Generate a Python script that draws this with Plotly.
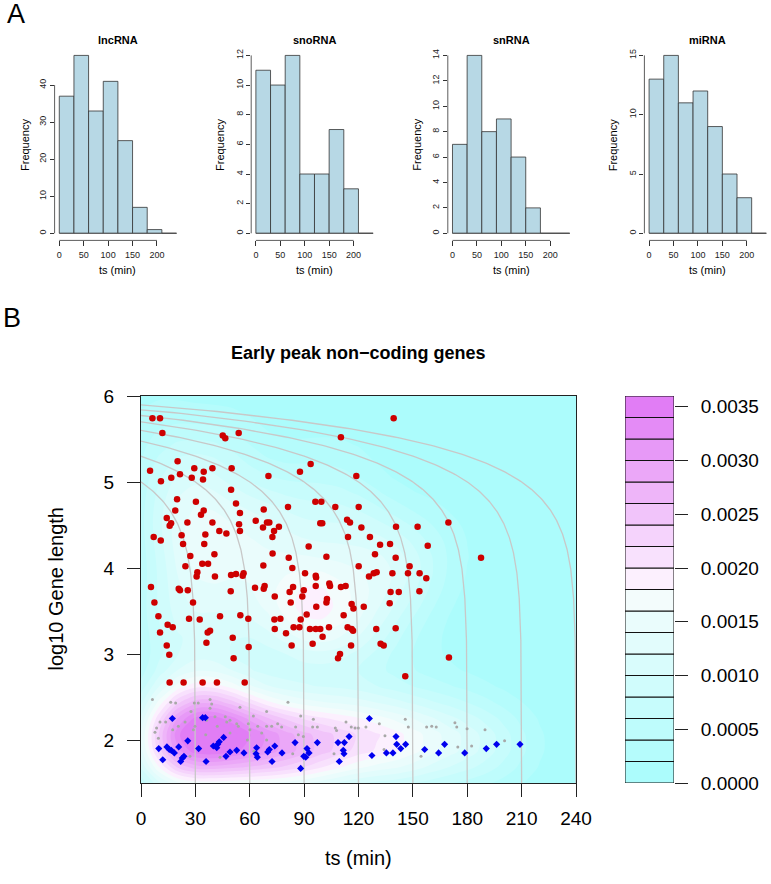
import numpy as np
import plotly.graph_objects as go

# ---------------- data ----------------
bin_edges = [0, 30, 60, 90, 120, 150, 180, 210, 240]
hist_names = ["lncRNA", "snoRNA", "snRNA", "miRNA"]
lncRNA_counts = [37, 48, 33, 41, 25, 7, 1, 0]
snoRNA_counts = [11, 10, 12, 4, 4, 7, 3, 0]
snRNA_counts = [7, 14, 8, 9, 6, 2, 0, 0]
miRNA_counts = [13, 15, 11, 12, 9, 5, 3, 0]
hist_x_ticks = [0, 50, 100, 150, 200]
lncRNA_y_ticks = [0, 10, 20, 30, 40]
snoRNA_y_ticks = [0, 2, 4, 6, 8, 10, 12]
snRNA_y_ticks = [0, 2, 4, 6, 8, 10, 12, 14]
miRNA_y_ticks = [0, 5, 10, 15]

red_ts = [6.3, 10.5, 11.8, 45.1, 46.5, 53.9, 110.3, 20.2, 5.0, 11.0, 16.7, 21.5, 29.4, 28.0, 34.6, 34.2,
          39.4, 50.0, 70.3, 87.7, 93.6, 118.8, 49.7, 19.9, 30.3, 52.4, 18.9, 34.6, 33.1, 54.6, 67.7, 81.1,
          96.2, 99.5, 107.2, 120.1, 14.2, 16.6, 15.8, 25.6, 39.4, 54.1, 54.6, 63.3, 67.3, 69.5, 70.8, 73.4,
          76.1, 98.9, 100.0, 113.7, 115.3, 121.6, 7.0, 10.9, 22.4, 23.2, 35.5, 34.9, 43.2, 47.1, 72.5, 92.5,
          114.2, 126.3, 131.9, 27.2, 40.5, 72.6, 102.3, 129.1, 24.5, 33.8, 37.0, 67.5, 81.5, 83.5, 120.1,
          31.1, 30.7, 40.8, 49.7, 52.4, 56.1, 56.6, 90.5, 96.4, 96.6, 130.0, 125.8, 128.4, 5.5, 20.8, 21.5,
          25.8, 49.5, 62.9, 67.7, 68.2, 73.8, 82.0, 83.9, 89.8, 89.0, 96.4, 103.9, 104.3, 110.3, 112.9, 7.4,
          28.7, 82.6, 102.6, 102.3, 96.7, 116.2, 117.2, 122.9, 9.6, 43.6, 54.8, 91.4, 111.8, 26.5, 32.4,
          59.2, 73.6, 76.9, 88.1,
          139.4, 140.7, 152.6, 137.4, 140.5, 148.2, 147.3, 153.7, 157.4, 138.7, 137.7, 142.2, 153.6, 137.2,
          140.5, 158.2, 169.6, 187.6,
          14.7, 17.5, 10.5, 36.8, 38.1, 36.1, 50.6, 14.2, 15.6, 51.1, 59.4, 73.8, 80.0, 84.2, 87.4, 93.2,
          96.4, 98.9, 103.7, 114.0, 116.2, 117.0, 83.1, 94.7, 100.2, 115.9, 108.7, 109.8, 15.8, 23.5, 34.0,
          41.9, 57.2,
          129.8, 132.2, 133.9, 169.9, 145.8]
red_loglen = [5.74, 5.74, 5.57, 5.54, 5.51, 5.57, 5.52, 5.24, 5.13, 5.01, 5.05, 5.09, 5.16, 5.05, 5.12, 5.03,
              5.16, 5.16, 5.07, 5.12, 5.21, 5.07, 4.91, 4.80, 4.77, 4.75, 4.67, 4.67, 4.62, 4.64, 4.68, 4.71,
              4.77, 4.77, 4.71, 4.71, 4.58, 4.52, 4.49, 4.53, 4.53, 4.51, 4.43, 4.55, 4.47, 4.53, 4.53, 4.43,
              4.48, 4.52, 4.52, 4.56, 4.53, 4.47, 4.36, 4.32, 4.38, 4.28, 4.39, 4.28, 4.43, 4.40, 4.36, 4.25,
              4.36, 4.36, 4.27, 4.14, 4.16, 4.17, 4.13, 4.16, 4.02, 4.05, 4.05, 4.03, 4.12, 4.00, 4.02,
              3.95, 3.90, 3.90, 3.92, 3.93, 3.91, 3.94, 3.94, 3.91, 3.89, 3.95, 3.90, 3.94, 3.78, 3.76, 3.74,
              3.74, 3.73, 3.77, 3.76, 3.79, 3.67, 3.72, 3.78, 3.74, 3.67, 3.79, 3.82, 3.79, 3.78, 3.79, 3.60,
              3.60, 3.60, 3.64, 3.60, 3.55, 3.58, 3.53, 3.55, 3.44, 3.44, 3.45, 3.46, 3.45, 3.41, 3.40,
              3.41, 3.40, 3.41, 3.40,
              5.74, 4.48, 4.48, 4.28, 4.12, 4.02, 3.94, 3.94, 3.88, 3.94, 3.72, 3.72, 3.73, 3.59,
              3.30, 4.26, 4.53, 4.12,
              3.34, 3.31, 3.25, 3.25, 3.27, 3.13, 3.19, 3.10, 2.99, 2.95, 3.08, 3.29, 3.24, 3.31, 3.31, 3.29,
              3.29, 3.29, 3.31, 3.31, 3.29, 3.27, 3.10, 3.12, 3.20, 3.10, 2.95, 3.00, 2.67, 2.67, 2.67,
              2.67, 2.67,
              3.29, 3.12, 3.10, 2.96, 2.74]

blue_ts = [17.3, 34.0, 35.5, 9.8, 12.0, 14.3, 15.6, 16.7, 18.4, 20.8, 21.9, 22.8, 23.7, 25.8, 31.8, 35.9,
           39.9, 41.8, 42.3, 43.2, 45.6, 46.9, 49.1, 52.8, 56.8, 63.8, 63.5, 64.2, 69.9, 70.8, 73.8, 72.3,
           77.8, 85.0, 88.1, 89.8, 90.9, 91.6, 92.7, 97.3, 108.7, 112.2, 114.8, 111.6, 112.0, 109.4,
           126.0, 140.7, 141.1, 143.3, 146.0, 127.4, 135.4, 139.0, 156.5, 164.2, 167.5, 178.6, 190.5, 196.2,
           209.1]
blue_loglen = [2.25, 2.26, 2.26, 1.90, 1.77, 1.92, 1.89, 1.88, 1.85, 1.92, 1.75, 1.79, 1.81, 1.99, 1.90, 1.75,
               1.93, 1.91, 1.95, 1.98, 2.03, 1.81, 1.86, 1.88, 1.85, 1.91, 1.84, 1.80, 1.86, 1.89, 1.93, 1.75,
               1.85, 1.97, 1.67, 1.81, 1.80, 1.90, 1.85, 1.97, 1.97, 1.97, 2.04, 1.88, 1.84, 1.75,
               2.25, 2.04, 1.95, 1.90, 1.95, 1.82, 1.85, 1.85, 1.89, 1.85, 1.95, 1.85, 1.90, 1.95,
               1.95]

# small grey dots visible between the diamonds (each diamond also covers a grey dot)
gray_ts = [6.3, 16.4, 19.1, 27.6, 29.4, 31.6, 38.1, 38.1, 39.0, 54.6, 69.3, 81.1, 88.1, 95.1, 10.5, 8.6,
           7.7, 9.6, 13.6, 20.6, 24.3, 28.9, 29.8, 32.9, 36.2, 40.8, 42.1, 46.5, 47.3, 49.1, 52.8, 53.7,
           59.2, 60.1, 62.0, 64.4, 66.6, 69.3, 72.1, 75.4, 77.6, 85.3, 86.8, 89.6, 94.7, 97.3, 107.2, 107.9,
           113.1, 116.0, 118.1, 119.9, 27.0, 43.6, 83.7, 106.5, 49.1, 58.7, 69.3, 62.3, 35.7, 17.5,
           124.1, 131.5, 145.8, 147.5, 134.6, 157.6, 160.4, 162.9, 173.2, 174.2, 179.9, 189.8, 134.1, 154.5,
           174.8, 182.4, 200.6]
gray_loglen = [2.47, 2.44, 2.43, 2.33, 2.43, 2.43, 2.47, 2.37, 2.42, 2.38, 2.33, 2.44, 2.28, 2.24, 2.21, 2.14,
               2.09, 2.02, 2.21, 2.16, 2.21, 2.12, 2.16, 2.25, 2.23, 2.27, 2.16, 2.27, 2.21, 2.23, 2.19, 2.16,
               2.19, 2.12, 2.28, 2.16, 2.08, 2.16, 2.16, 2.19, 2.15, 2.15, 2.06, 2.04, 2.15, 2.15, 2.14, 2.11,
               2.21, 2.15, 2.14, 2.14, 1.81, 1.80, 1.84, 1.84, 2.08, 2.00, 2.00, 1.87, 2.06, 2.12,
               2.15, 2.19, 2.24, 2.15, 2.05, 2.15, 2.16, 2.15, 2.20, 2.15, 2.13, 2.12, 1.89, 1.81,
               1.92, 1.93, 1.99]

main_x_ticks = [0, 30, 60, 90, 120, 150, 180, 210, 240]
main_y_ticks = [2, 3, 4, 5, 6]
curve_offsets = [30, 60, 90, 120, 150, 180, 210, 240]
elongation_bp_per_min = 200000 / 60
level_start, level_end, level_step = 0.0, 0.0036, 0.0002
key_ticks = [0.0, 0.0005, 0.0010, 0.0015, 0.0020, 0.0025, 0.0030, 0.0035]

# ---------------- helpers ----------------
W, H = 771, 884
FONT = "Liberation Sans"


def px(x):
    return x / W


def py(y):
    return 1 - y / H


def sfx(n):
    return "" if n == 1 else str(n)


def band_color(k, nb):
    half = nb // 2
    if k < half:
        s = 0.32 * (1 - k / half)
        v = 0.99
        r, g, b = v * (1 - s), v, v
    else:
        t = (k - half + 1) / half
        s = 0.49 * t
        v = 1 - 0.04 * t
        f = 5 / 6
        r, g, b = v * (1 - s * (1 - f)), v * (1 - s), v
    return "rgb(%d,%d,%d)" % (round(255 * r), round(255 * g), round(255 * b))


fig = go.Figure()
layout = dict(width=W, height=H, margin=dict(l=0, r=0, t=0, b=0, pad=0, autoexpand=False),
              paper_bgcolor="white", plot_bgcolor="white", showlegend=False, barmode="overlay",
              font=dict(family=FONT, color="black"))
annotations = []
shapes = []

# ---------------- panel A: histograms ----------------
hist_counts = [lncRNA_counts, snoRNA_counts, snRNA_counts, miRNA_counts]
hist_yticks = [lncRNA_y_ticks, snoRNA_y_ticks, snRNA_y_ticks, miRNA_y_ticks]
hist_left = [54.6, 251.2, 447.8, 644.4]
hist_w = 126.6
freq_x = [25, 220, 416.7, 613.3]
centers = [(a + b) / 2 for a, b in zip(bin_edges[:-1], bin_edges[1:])]
widths = [b - a for a, b in zip(bin_edges[:-1], bin_edges[1:])]
ydom = [py(240.4), py(48.3)]
for i in range(4):
    s = sfx(i + 1)
    cnt = hist_counts[i]
    m = max(cnt)
    fig.add_trace(go.Bar(x=centers, y=cnt, width=widths, xaxis="x" + s, yaxis="y" + s,
                         marker=dict(color="#B7D8E5", line=dict(color="#333333", width=0.8)),
                         hoverinfo="skip"))
    xr = [bin_edges[0] - 0.04 * (bin_edges[-1] - bin_edges[0]),
          bin_edges[-1] + 0.04 * (bin_edges[-1] - bin_edges[0])]
    dom = [px(hist_left[i]), min(1.0, px(hist_left[i] + hist_w))]
    layout["xaxis" + s] = dict(domain=dom, range=xr, anchor="y" + s, tickvals=hist_x_ticks,
                               ticks="outside", ticklen=5, tickwidth=0.8, tickcolor="#333333",
                               showline=False, showgrid=False, zeroline=False,
                               tickfont=dict(size=9, color="#222222"), ticklabelstandoff=1)
    layout["yaxis" + s] = dict(domain=ydom, range=[-0.04 * m, 1.04 * m], anchor="x" + s,
                               tickvals=hist_yticks[i], ticks="outside", ticklen=4, tickwidth=0.8,
                               tickcolor="#333333", tickangle=-90, showline=False, showgrid=False,
                               zeroline=False, tickfont=dict(size=9, color="#222222"))
    # axis lines spanning the tick range only (R style)
    shapes.append(dict(type="line", xref="x" + s, yref="y%s domain" % s, x0=hist_x_ticks[0],
                       x1=hist_x_ticks[-1], y0=0, y1=0, line=dict(color="#333333", width=0.8)))
    shapes.append(dict(type="line", xref="x%s domain" % s, yref="y" + s, x0=0, x1=0,
                       y0=hist_yticks[i][0], y1=hist_yticks[i][-1], line=dict(color="#333333", width=0.8)))
    shapes.append(dict(type="line", xref="x" + s, yref="y" + s, x0=bin_edges[0], x1=bin_edges[-1],
                       y0=0, y1=0, line=dict(color="#555555", width=0.8)))
    cx = hist_left[i] + hist_w / 2
    annotations.append(dict(text="<b>%s</b>" % hist_names[i], x=px(cx), y=py(40), xref="paper",
                            yref="paper", showarrow=False, font=dict(size=11), xanchor="center",
                            yanchor="middle"))
    annotations.append(dict(text="Frequency", x=px(freq_x[i]), y=py(145), xref="paper", yref="paper",
                            showarrow=False, font=dict(size=11), textangle=-90, xanchor="center",
                            yanchor="middle"))
    annotations.append(dict(text="ts (min)", x=px(cx), y=py(270), xref="paper", yref="paper",
                            showarrow=False, font=dict(size=11), xanchor="center", yanchor="middle"))

annotations.append(dict(text="A", x=px(16), y=py(14), xref="paper", yref="paper", showarrow=False,
                        font=dict(size=27), xanchor="center", yanchor="middle"))
annotations.append(dict(text="B", x=px(12), y=py(318), xref="paper", yref="paper", showarrow=False,
                        font=dict(size=27), xanchor="center", yanchor="middle"))

# ---------------- panel B: density + points ----------------
# density sample: every plotted mark (red, all grey short genes incl. those under diamonds, blue)
pts_x = np.array(red_ts + gray_ts + blue_ts + blue_ts)
pts_y = np.array(red_loglen + gray_loglen + blue_loglen + blue_loglen)


def nrd(v):
    q1, q3 = np.percentile(v, [25, 75])
    return 4 * 1.06 * min(np.std(v, ddof=1), (q3 - q1) / 1.34) * v.size ** (-0.2)


hx, hy = nrd(pts_x) / 4, nrd(pts_y) / 4
gx = np.linspace(main_x_ticks[0], main_x_ticks[-1], 25)
gy = np.linspace(1.5, 6.0, 25)
kx = np.exp(-0.5 * ((gx[:, None] - pts_x[None, :]) / hx) ** 2) / (np.sqrt(2 * np.pi) * hx)
ky = np.exp(-0.5 * ((gy[:, None] - pts_y[None, :]) / hy) ** 2) / (np.sqrt(2 * np.pi) * hy)
dens = ky @ kx.T / pts_x.size

levels = np.arange(level_start, level_end + level_step / 2, level_step)
nb = len(levels) - 1
band_cols = [band_color(k, nb) for k in range(nb)]
nlev = len(levels)
cscale = [[0.0, band_cols[0]]] + [[(k + 1) / nlev, band_cols[k]] for k in range(nb)] + [[1.0, band_cols[-1]]]

fig.add_trace(go.Contour(x=gx, y=gy, z=dens, xaxis="x5", yaxis="y5", autocontour=False,
                         contours=dict(start=level_start, end=level_end, size=level_step,
                                       coloring="fill", showlines=False),
                         line=dict(width=0), colorscale=cscale, showscale=False, hoverinfo="skip"))

ycurve = np.linspace(1.5, 6.0, 400)
for c in curve_offsets:
    fig.add_trace(go.Scatter(x=c - 10 ** ycurve / elongation_bp_per_min, y=ycurve, mode="lines",
                             xaxis="x5", yaxis="y5", line=dict(color="rgb(200,200,200)", width=1.3),
                             hoverinfo="skip"))

fig.add_trace(go.Scatter(x=gray_ts, y=gray_loglen, mode="markers", xaxis="x5", yaxis="y5",
                         marker=dict(color="#A8A8A8", size=3), hoverinfo="skip"))
fig.add_trace(go.Scatter(x=blue_ts, y=blue_loglen, mode="markers", xaxis="x5", yaxis="y5",
                         marker=dict(color="#0000EE", size=5.5, symbol="diamond"), hoverinfo="skip"))
fig.add_trace(go.Scatter(x=red_ts, y=red_loglen, mode="markers", xaxis="x5", yaxis="y5",
                         marker=dict(color="#CD0000", size=6.5), hoverinfo="skip"))

main_ydom = [py(783), py(396)]
layout["xaxis5"] = dict(domain=[px(141), px(576)], range=[main_x_ticks[0], main_x_ticks[-1]], anchor="y5",
                        tickvals=main_x_ticks, ticks="outside", ticklen=13, tickwidth=1, tickcolor="#222222",
                        showline=True, mirror=True, linecolor="#222222",
                        linewidth=1.2, showgrid=False, zeroline=False, tickfont=dict(size=19),
                        ticklabelstandoff=5)
layout["yaxis5"] = dict(domain=main_ydom, range=[1.5, 6.0], anchor="x5", tickvals=main_y_ticks,
                        ticks="outside", ticklen=13, tickwidth=1, tickcolor="#222222", showline=True,
                        mirror=True, linecolor="#222222", linewidth=1.2, showgrid=False, zeroline=False,
                        tickfont=dict(size=19), ticklabelstandoff=9)

# ---------------- key ----------------
fig.add_trace(go.Bar(x=[0] * nb, y=[level_step] * nb, base=list(levels[:-1]), width=1, xaxis="x6",
                     yaxis="y6", marker=dict(color=band_cols, line=dict(color="#111111", width=1)),
                     hoverinfo="skip"))
layout["xaxis6"] = dict(domain=[px(625), px(674)], range=[-0.5, 0.5], anchor="y6", visible=False)
layout["yaxis6"] = dict(domain=main_ydom, range=[level_start, level_end], anchor="x6", side="right",
                        tickvals=key_ticks, ticktext=["%.4f" % v for v in key_ticks], ticks="outside",
                        ticklen=13, tickwidth=1, tickcolor="#222222", showline=False, showgrid=False,
                        zeroline=False, tickfont=dict(size=19), ticklabelstandoff=9)

annotations.append(dict(text="<b>Early peak non\u2212coding genes</b>", x=px(358.5), y=py(353), xref="paper",
                        yref="paper", showarrow=False, font=dict(size=18), xanchor="center", yanchor="middle"))
annotations.append(dict(text="log10 Gene length", x=px(55), y=py(589.5), xref="paper", yref="paper",
                        showarrow=False, font=dict(size=20), textangle=-90, xanchor="center",
                        yanchor="middle"))
annotations.append(dict(text="ts (min)", x=px(358.5), y=py(858), xref="paper", yref="paper",
                        showarrow=False, font=dict(size=20), xanchor="center", yanchor="middle"))

layout["annotations"] = annotations
layout["shapes"] = shapes
fig.update_layout(**layout)
fig.write_html("out.html", config={"displayModeBar": False},
               post_script="document.body.style.margin='0px';")
